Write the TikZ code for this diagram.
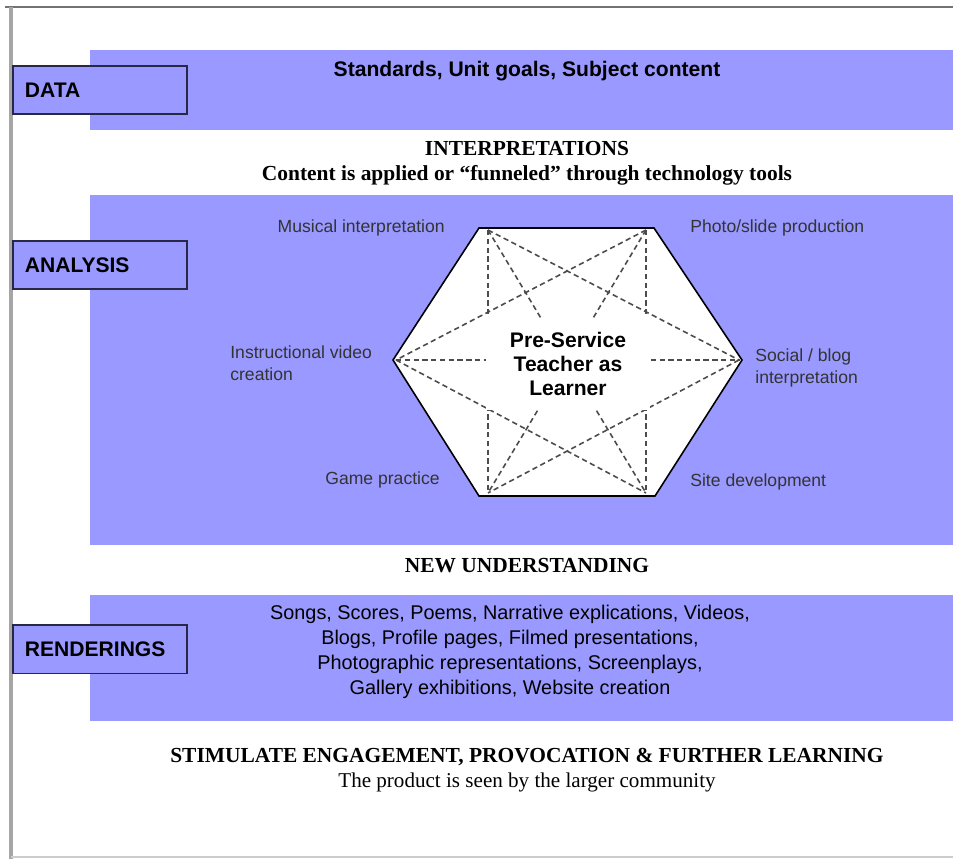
\documentclass[tikz,border=0pt]{standalone}
\usepackage{fontspec}
\setmainfont{Liberation Serif}
\setsansfont{Liberation Sans}
\usetikzlibrary{positioning}
\definecolor{bandblue}{RGB}{153,153,255}
\definecolor{tagline}{RGB}{40,40,70}
\tikzset{
  band/.style={fill=bandblue},
  tag/.style={draw=tagline, fill=bandblue, line width=1pt, anchor=north west, minimum height=0.97cm, text width=3.0cm, inner xsep=0.24cm, align=left, font=\sffamily\bfseries\fontsize{12}{14}\selectfont},
  tool/.style={font=\sffamily\fontsize{10}{12.2}\selectfont, text=black!80, align=left, inner sep=0pt},
  link/.style={dash pattern=on 3pt off 2pt, line width=0.9pt, black!70},
  heading/.style={font=\bfseries\fontsize{12.2}{14}\selectfont, inner sep=0pt},
}

\begin{document}
\begin{tikzpicture}[x=0.02cm, y=-0.02cm]
\useasboundingbox (0,0) rectangle (953,859);

% frame
\draw[black!55, line width=1.5pt] (5,7) -- (953,7);
\draw[black!35, line width=2pt] (11,7) -- (11,859);
\draw[black!20, line width=1pt] (11,857) -- (953,857);

% bands
\fill[band] (90,50) rectangle (953,130);
\fill[band] (90,195) rectangle (953,545);
\fill[band] (90,595) rectangle (953,721);

\node[tag] (data) at (12,65) {DATA};
\node[tag] (analysis) at (12,240) {ANALYSIS};
\node[tag] (renderings) at (12,624) {RENDERINGS};

\node[font=\sffamily\bfseries\fontsize{12}{14}\selectfont, inner sep=0pt] (standards) at (527,71) {Standards, Unit goals, Subject content};

\node[heading] (interp) at (527,149) {INTERPRETATIONS};
\node[heading] (funnel) at (527,175) {Content is applied or “funneled” through technology tools};

% hexagon
\coordinate (h1) at (479,228);
\coordinate (h2) at (654,228);
\coordinate (h3) at (742,360);
\coordinate (h4) at (655,496);
\coordinate (h5) at (479,496);
\coordinate (h6) at (393,360);
\draw[fill=white, line width=0.9pt] (h1) -- (h2) -- (h3) -- (h4) -- (h5) -- (h6) -- cycle;

\coordinate (tl) at (488,230);
\coordinate (tr) at (646,230);
\coordinate (rt) at (739,360);
\coordinate (br) at (646,493);
\coordinate (bl) at (488,493);
\coordinate (lt) at (396,360);
\draw[link] (tl) -- (bl);
\draw[link] (tr) -- (br);
\draw[link] (lt) -- (rt);
\draw[link] (tl) -- (rt);
\draw[link] (tr) -- (lt);
\draw[link] (tl) -- (br);
\draw[link] (tr) -- (bl);
\draw[link] (lt) -- (br);
\draw[link] (rt) -- (bl);

\node[fill=white, minimum width=3.3cm, minimum height=1.86cm, align=center, inner sep=0pt,
      font=\sffamily\bfseries\fontsize{12}{13.7}\selectfont] (learner) at (568,364) {Pre-Service\\Teacher as\\Learner};

\node[tool, anchor=east] (music) at (445,228) {Musical interpretation};
\node[tool, anchor=west] (photo) at (690,228) {Photo/slide production};
\node[tool, anchor=west] (video) at (230,363) {Instructional video\\creation};
\node[tool, anchor=west] (social) at (755,368) {Social / blog\\interpretation};
\node[tool, anchor=east] (game) at (440,480) {Game practice};
\node[tool, anchor=west] (site) at (690,482) {Site development};

\node[heading] (newund) at (527,566) {NEW UNDERSTANDING};

\node[font=\sffamily\fontsize{11.3}{14.2}\selectfont, align=center, inner sep=0pt] (products) at (510,652)
  {Songs, Scores, Poems, Narrative explications, Videos,\\Blogs, Profile pages, Filmed presentations,\\Photographic representations, Screenplays,\\Gallery exhibitions, Website creation};

\node[heading] (stimulate) at (527,757) {STIMULATE ENGAGEMENT, PROVOCATION \& FURTHER LEARNING};
\node[font=\fontsize{12}{14}\selectfont, inner sep=0pt] (community) at (527,782) {The product is seen by the larger community};
\end{tikzpicture}
\end{document}
